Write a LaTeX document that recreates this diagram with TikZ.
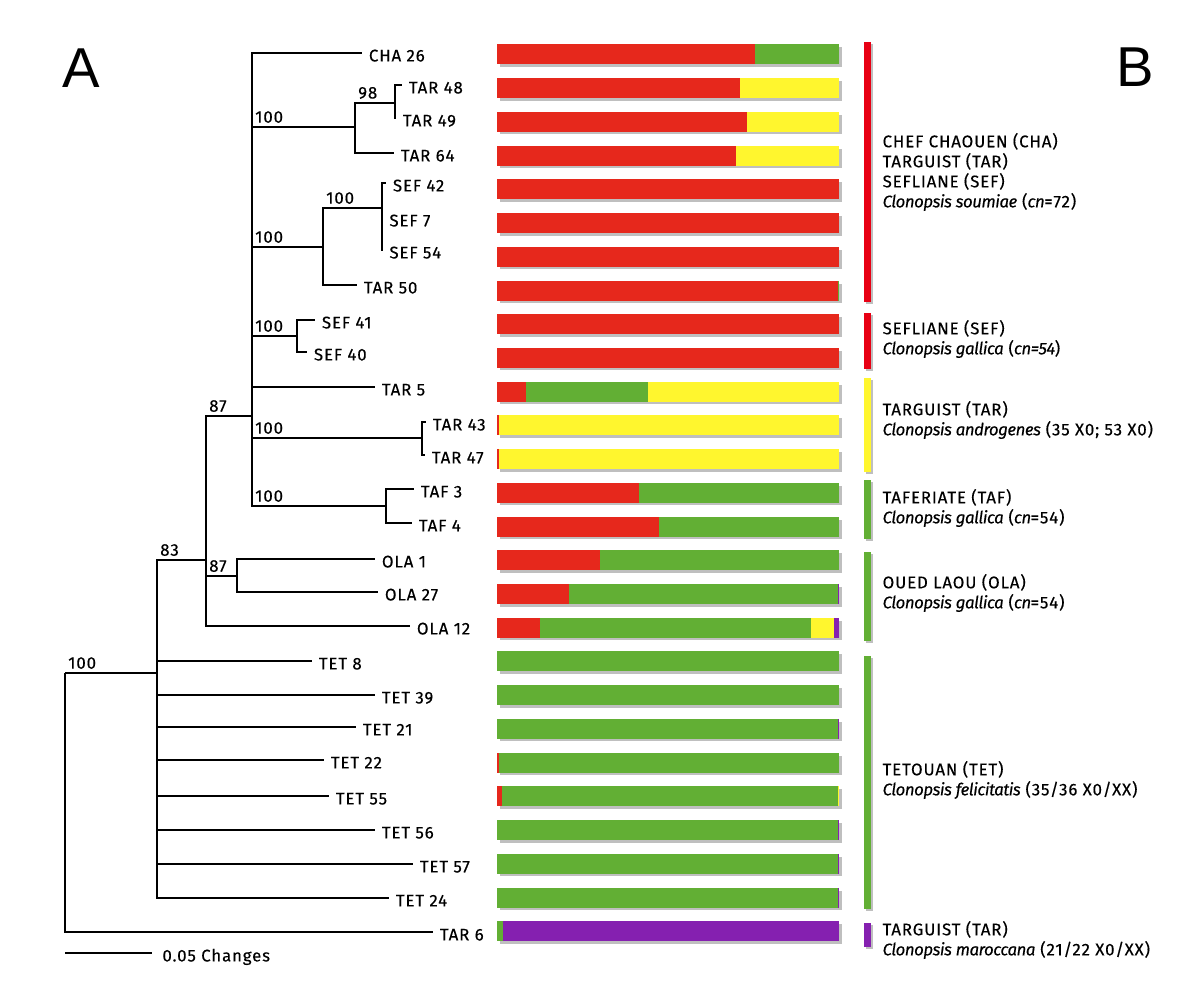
\documentclass[tikz,border=0pt]{standalone}
\usepackage{fontspec}
\setmainfont{Fira Sans}[LetterSpace=5, FakeBold=0.3, ItalicFeatures={LetterSpace=-3}]
\newfontfamily\panelfont{Liberation Sans}
\usetikzlibrary{positioning}

\definecolor{cred}{RGB}{230,40,28}
\definecolor{cgreen}{RGB}{98,175,52}
\definecolor{cyel}{RGB}{255,246,46}
\definecolor{cpurple}{RGB}{133,32,176}
\definecolor{cgrpred}{RGB}{232,0,20}

\newcommand\labfont{\fontsize{9.6}{11}\selectfont}
\newcommand\grpfont{\fontsize{9.6}{11.4}\selectfont}

% one admixture bar: row index, list of start/end/colour
\newcommand\mixbar[2]{%
  \pgfmathsetmacro\yc{54.5+33.72*#1}
  \fill[black, opacity=.25] (499.5,\yc-7) rectangle (842,\yc+12.5);
  \foreach \a/\b/\c in {#2} \fill[\c] (\a,\yc-10) rectangle (\b,\yc+10);
}

\begin{document}
\begin{tikzpicture}[x=0.02cm, y=-0.02cm, line width=0.7pt,
    leaf/.style={anchor=west, inner xsep=3.6pt, inner ysep=0pt, text height=9.6pt, text depth=0pt, font=\labfont},
    boot/.style={anchor=south west, inner xsep=1.5pt, inner ysep=2pt, font=\labfont},
    grp/.style={anchor=west, align=left, inner sep=0pt, font=\grpfont},
    panel/.style={inner sep=0pt, font=\panelfont\fontsize{32}{32}\selectfont}]

    \useasboundingbox (0,0) rectangle (1200,997);

    \node (pA) [panel] at (81,68) {A};
    \node (pB) [panel] at (1135,67) {B};

    % internal nodes of the tree
    \coordinate (root) at (65,673);
    \coordinate (n83) at (157,673);
    \coordinate (n87a) at (206,560);
    \coordinate (n87b) at (252,416);
    \coordinate (n87c) at (237,576);
    \coordinate (n100a) at (355,127);
    \coordinate (n98) at (395,103);
    \coordinate (n100b) at (323,247);
    \coordinate (n100s) at (382,208);
    \coordinate (n100c) at (297,336);
    \coordinate (n100d) at (422,438);
    \coordinate (n100e) at (386,506);

    % leaves
    \node (cha26) [leaf] at (362,53) {CHA 26};
    \node (tar48) [leaf] at (402,85) {TAR 48};
    \node (tar49) [leaf] at (396,118) {TAR 49};
    \node (tar64) [leaf] at (394,153) {TAR 64};
    \node (sef42) [leaf] at (386,183) {SEF 42};
    \node (sef7)  [leaf] at (382.5,218) {SEF 7};
    \node (sef54) [leaf] at (382.5,250) {SEF 54};
    \node (tar50) [leaf] at (357,285) {TAR 50};
    \node (sef41) [leaf] at (315,320) {SEF 41};
    \node (sef40) [leaf] at (307,352) {SEF 40};
    \node (tar5)  [leaf] at (375,387) {TAR 5};
    \node (tar43) [leaf] at (426,422) {TAR 43};
    \node (tar47) [leaf] at (425,455) {TAR 47};
    \node (taf3)  [leaf] at (414,489) {TAF 3};
    \node (taf4)  [leaf] at (412,523) {TAF 4};
    \node (ola1)  [leaf] at (375,559) {OLA 1};
    \node (ola27) [leaf] at (378,592) {OLA 27};
    \node (ola12) [leaf] at (410,626) {OLA 12};
    \node (tet8)  [leaf] at (312,661) {TET 8};
    \node (tet39) [leaf] at (375,695) {TET 39};
    \node (tet21) [leaf] at (356,727) {TET 21};
    \node (tet22) [leaf] at (324,760) {TET 22};
    \node (tet55) [leaf] at (329,796) {TET 55};
    \node (tet56) [leaf] at (375,830) {TET 56};
    \node (tet57) [leaf] at (413,864) {TET 57};
    \node (tet24) [leaf] at (389,898) {TET 24};
    \node (tar6)  [leaf] at (433,932) {TAR 6};

    % branches
    \draw (root) -- (n83);
    \draw (root) |- (tar6.west);
    \draw (n83) |- (n87a);
    \foreach \t in {tet8,tet39,tet21,tet22,tet55,tet56,tet57,tet24}
        \draw (n83) |- (\t.west);
    \draw (n87a) |- (n87b);
    \draw (n87a) |- (n87c);
    \draw (n87a) |- (ola12.west);
    \draw (n87c) |- (ola1.west);
    \draw (n87c) |- (ola27.west);
    \draw (n87b) |- (cha26.west);
    \draw (n87b) |- (n100a);
    \draw (n87b) |- (n100b);
    \draw (n87b) |- (n100c);
    \draw (n87b) |- (tar5.west);
    \draw (n87b) |- (n100d);
    \draw (n87b) |- (n100e);
    \draw (n100a) |- (n98);
    \draw (n100a) |- (tar64.west);
    \draw (n98) |- (tar48.west);
    \draw (n98) |- (tar49.west);
    \draw (n100b) |- (n100s);
    \draw (n100b) |- (tar50.west);
    \foreach \t in {sef42,sef7,sef54}
        \draw (n100s) |- (\t.west);
    \draw (n100c) |- (sef41.west);
    \draw (n100c) |- (sef40.west);
    \draw (n100d) |- (tar43.west);
    \draw (n100d) |- (tar47.west);
    \draw (n100e) |- (taf3.west);
    \draw (n100e) |- (taf4.west);

    % bootstrap values
    \node (b100a) [boot] at (n87b |- n100a) {100};
    \node (b98)   [boot] at (n100a |- n98) {98};
    \node (b100b) [boot] at (n87b |- n100b) {100};
    \node (b100s) [boot] at (n100b |- n100s) {100};
    \node (b100c) [boot] at (n87b |- n100c) {100};
    \node (b100d) [boot] at (n87b |- n100d) {100};
    \node (b100e) [boot] at (n87b |- n100e) {100};
    \node (b87b)  [boot] at (n87a |- n87b) {87};
    \node (b87c)  [boot] at (n87a |- n87c) {87};
    \node (b83)   [boot] at (n83 |- n87a) {83};
    \node (b100r) [boot] at (root) {100};

    % scale bar
    \coordinate (sb0) at (65,953);
    \coordinate (sb1) at (152,953);
    \draw (sb0) -- (sb1);
    \node (sbl) [leaf, right=2pt of sb1, anchor=west] {0.05 Changes};

    % admixture bars
    \mixbar{0}{497/755/cred,755/839/cgreen}
    \mixbar{1}{497/740/cred,740/839/cyel}
    \mixbar{2}{497/747/cred,747/839/cyel}
    \mixbar{3}{497/736/cred,736/839/cyel}
    \mixbar{4}{497/839/cred}
    \mixbar{5}{497/839/cred}
    \mixbar{6}{497/839/cred}
    \mixbar{7}{497/837.5/cred,837.5/839/cgreen}
    \mixbar{8}{497/839/cred}
    \mixbar{9}{497/839/cred}
    \mixbar{10}{497/526/cred,526/648/cgreen,648/839/cyel}
    \mixbar{11}{497/498.5/cred,498.5/839/cyel}
    \mixbar{12}{497/498.5/cred,498.5/839/cyel}
    \mixbar{13}{497/639/cred,639/839/cgreen}
    \mixbar{14}{497/659/cred,659/839/cgreen}
    \mixbar{15}{497/600/cred,600/839/cgreen}
    \mixbar{16}{497/569/cred,569/837.5/cgreen,837.5/839/cpurple}
    \mixbar{17}{497/540/cred,540/811/cgreen,811/834/cyel,834/839/cpurple}
    \mixbar{18}{497/839/cgreen}
    \mixbar{19}{497/839/cgreen}
    \mixbar{20}{497/837.5/cgreen,837.5/839/cpurple}
    \mixbar{21}{497/499/cred,499/839/cgreen}
    \mixbar{22}{497/502/cred,502/837.5/cgreen,837.5/839/cyel}
    \mixbar{23}{497/837.5/cgreen,837.5/839/cpurple}
    \mixbar{24}{497/837.5/cgreen,837.5/839/cpurple}
    \mixbar{25}{497/837.5/cgreen,837.5/839/cpurple}
    \mixbar{26}{497/503/cgreen,503/839/cpurple}

    % population groups
    \foreach \ya/\yb/\c in {42/302/cgrpred,313/369/cgrpred,378/472/cyel,480/539/cgreen,
                            552/641/cgreen,656/909/cgreen,923/947/cpurple} {
        \fill[black, opacity=.25] (865.5,\ya+2) rectangle (873,\yb+2);
        \fill[\c] (864,\ya) rectangle (871,\yb);
    }

    \node (gcha) [grp] at (882,172) {CHEF CHAOUEN (CHA)\\TARGUIST (TAR)\\SEFLIANE (SEF)\\
        \textit{Clonopsis soumiae} (\textit{cn}=72)};
    \node (gsef) [grp] at (882,339) {SEFLIANE (SEF)\\\textit{Clonopsis gallica} (\textit{cn=54})};
    \node (gtar) [grp] at (882,420) {TARGUIST (TAR)\\\textit{Clonopsis androgenes} (35 X0; 53 X0)};
    \node (gtaf) [grp] at (882,508) {TAFERIATE (TAF)\\\textit{Clonopsis gallica} (\textit{cn}=54)};
    \node (gola) [grp] at (882,593) {OUED LAOU (OLA)\\\textit{Clonopsis gallica} (\textit{cn}=54)};
    \node (gtet) [grp] at (882,780) {TETOUAN (TET)\\\textit{Clonopsis felicitatis} (35/36 X0/XX)};
    \node (gmar) [grp] at (882,940) {TARGUIST (TAR)\\\textit{Clonopsis maroccana} (21/22 X0/XX)};
\end{tikzpicture}
\end{document}
